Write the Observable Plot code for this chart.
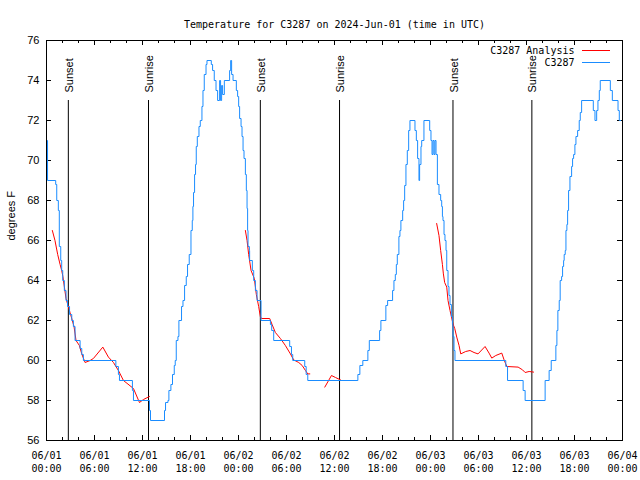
<!DOCTYPE html>
<html>
<head>
<meta charset="utf-8">
<script src="https://cdn.jsdelivr.net/npm/d3@7"></script>
<script src="https://cdn.jsdelivr.net/npm/@observablehq/plot@0.6"></script>
<style>
  html, body { margin: 0; padding: 0; background: #fff; }
  #chart svg { display: block; }
</style>
</head>
<body>
<div id="chart"></div>
<script>
// ---- data (time in hours after 2024-06-01 00:00 UTC) ----
const startUTC = Date.UTC(2024, 5, 1, 0, 0);
const titleText = "Temperature for C3287 on 2024-Jun-01 (time in UTC)";
const yLabel = "degrees F";
const seriesNames = ["C3287 Analysis", "C3287"];
const seriesColors = ["#ff0000", "#1a8cff"];

// C3287 observations (step line)
const obsHours = [0.00,0.13,1.15,1.28,1.48,1.60,1.78,1.90,2.03,2.23,2.44,2.63,2.88,3.16,3.36,3.57,4.20,4.41,4.61,8.67,8.99,9.12,10.74,10.87,12.87,13.00,
  14.75,14.88,15.18,15.30,15.55,15.75,15.97,16.09,16.22,16.43,16.55,16.88,17.06,17.26,17.47,17.63,17.84,18.06,18.22,18.30,18.38,18.51,18.63,18.72,18.85,19.06,19.22,19.43,19.56,19.72,19.94,20.06,
  20.60,20.76,20.97,21.19,21.39,21.64,21.76,21.89,22.01,22.23,22.89,23.02,23.14,23.32,23.73,23.89,24.02,24.14,24.32,24.44,24.57,24.69,24.86,24.98,25.07,25.14,25.19,25.36,25.39,25.73,25.90,26.11,26.32,26.82,
  27.99,28.15,28.40,30.40,30.62,30.78,32.28,32.46,32.66,38.92,39.17,39.54,40.17,40.35,41.64,41.80,42.42,42.64,43.26,43.43,43.60,43.73,43.85,44.05,44.18,44.30,44.52,44.64,44.77,44.93,45.10,45.27,45.43,
  46.06,46.23,46.39,46.56,46.64,46.81,46.90,47.18,47.90,48.06,48.19,48.31,48.44,48.56,48.69,48.86,49.06,49.27,49.40,49.49,49.56,49.69,49.81,49.94,50.03,50.19,50.31,50.44,50.61,50.74,50.81,50.94,51.06,
  57.41,57.63,59.58,59.83,62.33,62.83,63.09,63.67,63.80,63.92,64.09,64.21,64.39,64.51,64.64,64.71,64.84,64.93,65.05,65.14,65.26,65.43,65.64,65.76,65.89,66.05,66.18,66.39,66.59,66.72,66.89,
  68.35,68.56,68.77,68.93,69.10,69.22,70.48,70.73,71.44,71.60,71.82];
const obsTemps = [71,69,68.8,68,67.5,65.7,65,64.5,64,63.5,63,62.7,62.3,62,61.7,61,60.6,60.3,60,59.7,59.3,59,58.5,58,57.5,57,
  57.5,57.9,58,58.5,58.8,59.3,59.75,60,61,61.2,62,62.7,63,63.75,64.2,64.8,65.3,66.5,67,67.7,68.4,69.3,69.8,70.7,71.2,71.7,72,72.7,73.5,74.3,74.8,75,
  74.8,74.5,74,73.5,73,74,73,73.75,73.3,74,74.5,75,74.3,74,73.5,73.2,72.7,72.1,71.7,71.2,70.5,70.1,69.3,68.5,67.6,66.5,65.7,65.5,65,64.5,64,63.5,63,62,
  61.8,61.5,61,60.7,60.3,60,59.7,59.3,59,59.3,59.75,60,60.5,61,61.5,62,62.75,63,63.5,64,64.3,64.8,65.3,66.2,66.5,67,67.5,68,68.75,69.8,70.5,71.5,72,
  71.5,71,70.1,69,69.8,70.7,71,72,71.5,71,70.3,71,70.3,71,70.3,68.8,68.3,68,67.7,67.2,67,66.3,66,65.5,64.5,63.7,63.25,62.8,62.2,61.8,61.2,60.5,60,
  59.7,59,58.5,58,59,59.5,60,60.75,61.5,62.5,63,64,64.2,64.7,65,65.3,65.5,66.5,66.8,67.5,68.5,69.2,69.7,70.1,70.3,70.8,71.2,71.5,72,72.4,73,
  72.5,72,72.5,73,73.5,74,73.5,73,72.5,72,72];

// C3287 Analysis (separate segments)
const anaSegment = [1,1,1,1,1,1,1,1,1,1,1,1,1,1,1,1,1,1,1,1,1,1,1,1,
  2,2,2,2,2,2,2,2,2,2,2,2,2,2,2,2,2,2,2,2,2,
  3,3,3,3,
  4,4,4,4,4,4,4,4,4,4,4,4,4,4,4,4,4,4,4,4,4,4,4,4,4,4,4,4,4,4,4];
const anaHours = [0.73,1.06,1.40,1.70,1.90,2.05,2.44,2.94,3.44,3.69,4.11,4.41,4.82,5.45,5.86,7.04,7.74,8.37,8.99,9.62,10.87,11.62,12.12,12.87,
  24.86,25.07,25.27,25.57,25.98,26.23,26.52,26.73,26.86,27.90,28.20,28.61,29.24,29.86,30.49,30.90,31.53,31.96,32.37,32.66,32.91,
  34.79,35.62,36.13,36.75,
  48.77,49.06,49.27,49.49,49.61,49.77,50.03,50.19,50.44,50.61,50.81,51.03,51.28,51.57,51.78,52.40,52.94,53.44,53.94,54.82,55.32,55.66,56.16,56.91,57.20,57.54,58.95,59.51,59.83,60.33,60.88];
const anaTemps = [66.5,66,65.3,64.8,64.5,64.2,63.1,62.4,61.7,61,60.75,60.33,59.9,60,60.1,60.67,60.17,59.9,59.5,59,58.6,57.9,58.05,58.2,
  66.5,66,65.3,64.5,64.1,63.3,62.7,62.2,62.1,62.1,61.8,61.4,61.1,60.75,60.33,60.03,59.9,59.75,59.5,59.33,59.33,
  58.67,59.25,59.15,59.03,
  66.85,66.25,65.5,64.8,64.33,63.9,63.67,63,62.5,62.2,61.83,61.6,61.17,60.75,60.33,60.45,60.5,60.4,60.33,60.7,60.37,60.12,60.25,60.37,60.03,59.7,59.67,59.53,59.4,59.45,59.42];

// sunrise / sunset
const sunHours = [2.73, 12.75, 26.73, 36.63, 50.81, 60.67];
const sunLabels = ["Sunset", "Sunrise", "Sunset", "Sunrise", "Sunset", "Sunrise"];

// axes
const yTicks = [56, 58, 60, 62, 64, 66, 68, 70, 72, 74, 76];
const xMajorHours = [0, 6, 12, 18, 24, 30, 36, 42, 48, 54, 60, 66, 72];
const xMinorHours = [2, 4, 8, 10, 14, 16, 20, 22, 26, 28, 32, 34, 38, 40, 44, 46, 50, 52, 56, 58, 62, 64, 68, 70];
const yDomain = [56, 76];
const sunLineTop = 73;

// ---- build ----
const toDate = h => new Date(startUTC + h * 3600e3);
const obs = obsHours.map((h, i) => ({t: toDate(h), v: obsTemps[i]}));
const ana = anaHours.map((h, i) => ({t: toDate(h), v: anaTemps[i], s: anaSegment[i]}));
const sun = sunHours.map((h, i) => ({t: toDate(h), label: sunLabels[i]}));
const majors = xMajorHours.map(toDate);
const minors = xMinorHours.map(toDate);

const W = 640, H = 480, mL = 46, mR = 18, mT = 40, mB = 40;
const fw = W - mL - mR, fh = H - mT - mB;
const mono = "DejaVu Sans Mono";
const sans = "Liberation Sans";

const chart = Plot.plot({
  width: W, height: H,
  marginLeft: mL, marginRight: mR, marginTop: mT, marginBottom: mB,
  style: {fontFamily: mono, fontSize: "10px", background: "#fff", color: "#000"},
  x: {type: "utc", domain: [toDate(xMajorHours[0]), toDate(xMajorHours[xMajorHours.length - 1])]},
  y: {domain: yDomain},
  marks: [
    // inward ticks
    Plot.tickX(majors, {x: d => d, insetTop: fh - 5, stroke: "#000"}),
    Plot.tickX(majors, {x: d => d, insetBottom: fh - 5, stroke: "#000"}),
    Plot.tickX(minors, {x: d => d, insetTop: fh - 3, stroke: "#000"}),
    Plot.tickX(minors, {x: d => d, insetBottom: fh - 3, stroke: "#000"}),
    Plot.tickY(yTicks, {y: d => d, insetRight: fw - 5, stroke: "#000"}),
    Plot.tickY(yTicks, {y: d => d, insetLeft: fw - 5, stroke: "#000"}),
    // tick labels
    Plot.axisY(yTicks, {tickSize: 0, tickPadding: 7, fontFamily: sans, fontSize: 11, label: null}),
    Plot.axisX(majors, {tickSize: 0, tickPadding: 9, tickFormat: d3.utcFormat("%m/%d\n%H:%M"), fontFamily: mono, fontSize: 10, lineHeight: 1.3, label: null}),
    // sunrise/sunset
    Plot.ruleX(sun, {x: "t", y1: yDomain[0], y2: sunLineTop, stroke: "#000"}),
    Plot.text(sun, {x: "t", y: sunLineTop, text: "label", rotate: -90, textAnchor: "start", dy: -8, dx: 1, fontFamily: sans, fontSize: 11, fill: "#000"}),
    // series
    Plot.line(ana, {x: "t", y: "v", z: "s", stroke: seriesColors[0], strokeWidth: 1}),
    Plot.line(obs, {x: "t", y: "v", curve: "step-after", stroke: seriesColors[1], strokeWidth: 1}),
    Plot.frame({stroke: "#000"}),
    // title and y label
    Plot.text([titleText], {frameAnchor: "top", dy: -20, fontFamily: mono, fontSize: 10, fill: "#000"}),
    Plot.text([yLabel], {frameAnchor: "left", dx: -35, rotate: -90, fontFamily: sans, fontSize: 11, fill: "#000"}),
    // legend
    Plot.text([seriesNames[0]], {frameAnchor: "top-right", dx: -48, dy: 10, textAnchor: "end", lineAnchor: "middle", fontFamily: mono, fontSize: 10, fill: "#000"}),
    Plot.text([seriesNames[1]], {frameAnchor: "top-right", dx: -48, dy: 22, textAnchor: "end", lineAnchor: "middle", fontFamily: mono, fontSize: 10, fill: "#000"}),
    Plot.tickY([0], {y: () => yDomain[1] - 0.5, insetLeft: fw - 40, insetRight: 12, stroke: seriesColors[0]}),
    Plot.tickY([0], {y: () => yDomain[1] - 1.1, insetLeft: fw - 40, insetRight: 12, stroke: seriesColors[1]})
  ]
});
document.getElementById("chart").appendChild(chart);
</script>
</body>
</html>
